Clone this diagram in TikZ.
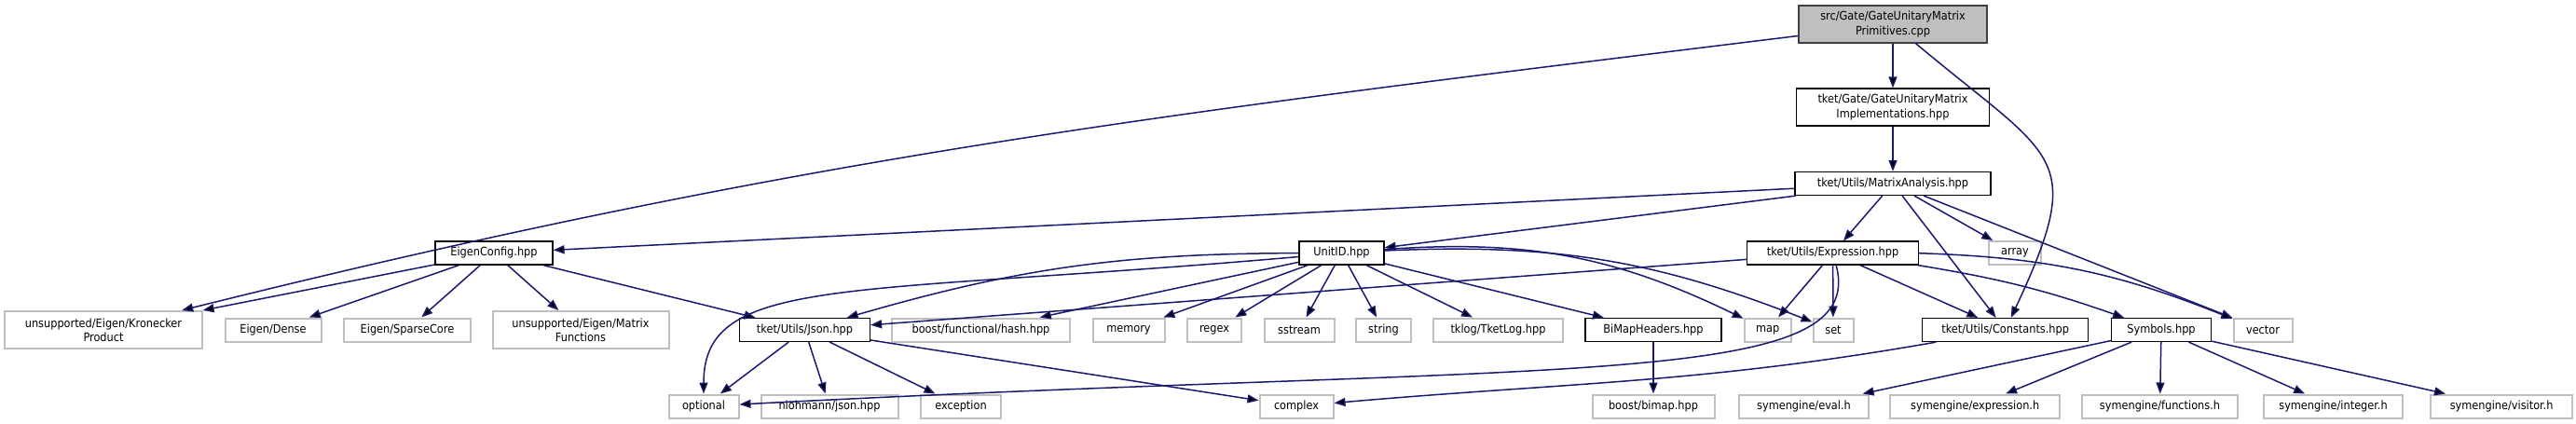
\documentclass[tikz,border=0pt]{standalone}
\usepackage{fontspec}
\setmainfont{DejaVu Sans Condensed}
\usepackage{xcolor}
\usepackage{tikz}
\usetikzlibrary{arrows.meta, positioning}

\definecolor{edgeblue}{HTML}{191970}
\definecolor{sysgray}{HTML}{BFBFBF}
\definecolor{rootline}{HTML}{404040}

\begin{document}
\begin{tikzpicture}[>={Triangle[length=6pt,width=4.5pt]}, node distance=41pt, on grid,
        file/.style={draw=black, line width=0.6pt, fill=white, inner sep=0pt, minimum height=12.5pt, align=center, font=\fontsize{6.3}{7.6}\selectfont},
        sys/.style={file, draw=sysgray, line width=1pt},
        tall/.style={minimum height=20pt},
        root/.style={file, tall, fill=sysgray, draw=rootline}]
        \useasboundingbox (0,0) rectangle (1382pt,-227.5pt);

        \node[root, minimum width=101pt] (prim) at (1015.5pt,-13pt) {src/Gate/GateUnitaryMatrix\\Primitives.cpp};
        \node[file, tall, minimum width=103.5pt] (impl) [below=44.5pt of prim] {tket/Gate/GateUnitaryMatrix\\Implementations.hpp};
        \node[file, minimum width=105pt] (matrix) [below=of impl] {tket/Utils/MatrixAnalysis.hpp};

        \node[file, minimum width=92pt] (expr) [below left=37.25pt and 32.2pt of matrix] {tket/Utils/Expression.hpp};
        \node[file, minimum width=45.5pt] (unitid) [left=263.55pt of expr] {UnitID.hpp};
        \node[file, minimum width=63pt] (eigen) [left=454.75pt of unitid] {EigenConfig.hpp};
        \node[sys, minimum width=28pt] (array) [right=97.7pt of expr] {array};

        % third row
        \node[sys, tall, minimum width=106pt] (kron) [below left=41.25pt and 209.5pt of eigen] {unsupported/Eigen/Kronecker\\Product};
        \node[sys, minimum width=51.5pt] (dense) [right=91pt of kron] {Eigen/Dense};
        \node[sys, minimum width=68pt] (sparse) [right=72pt of dense] {Eigen/SparseCore};
        \node[sys, tall, minimum width=94.5pt] (mfun) [right=93pt of sparse] {unsupported/Eigen/Matrix\\Functions};
        \node[file, minimum width=70pt] (json) [right=120.25pt of mfun] {tket/Utils/Json.hpp};
        \node[sys, minimum width=95.5pt] (hash) [right=94.5pt of json] {boost/functional/hash.hpp};
        \node[sys, minimum width=38.5pt] (memory) [right=79.25pt of hash] {memory};
        \node[sys, minimum width=29pt] (regex) [right=46pt of memory] {regex};
        \node[sys, minimum width=37.5pt] (sstream) [right=45.5pt of regex] {sstream};
        \node[sys, minimum width=29.5pt] (string) [right=45.25pt of sstream] {string};
        \node[sys, minimum width=69.5pt] (tketlog) [right=61.5pt of string] {tklog/TketLog.hpp};
        \node[file, minimum width=73pt] (bimaphdr) [right=83.25pt of tketlog] {BiMapHeaders.hpp};
        \node[sys, minimum width=25pt] (map) [right=61.3pt of bimaphdr] {map};
        \node[sys, minimum width=21.5pt] (set) [right=35.2pt of map] {set};
        \node[file, minimum width=89pt] (constants) [right=92.35pt of set] {tket/Utils/Constants.hpp};
        \node[file, minimum width=53.5pt] (symbols) [right=83.65pt of constants] {Symbols.hpp};
        \node[sys, minimum width=31.5pt] (vector) [right=54.5pt of symbols] {vector};

        % bottom row
        \node[sys, minimum width=37.5pt] (optional) [below left=41pt and 54.25pt of json] {optional};
        \node[sys, minimum width=73.5pt] (nlohmann) [right=67.5pt of optional] {nlohmann/json.hpp};
        \node[sys, minimum width=43pt] (exception) [right=70.5pt of nlohmann] {exception};
        \node[sys, minimum width=39.5pt] (complex) [right=180pt of exception] {complex};
        \node[sys, minimum width=65.5pt] (bimap) [below=of bimaphdr] {boost/bimap.hpp};
        \node[sys, minimum width=69.5pt] (eval) [right=80.75pt of bimap] {symengine/eval.h};
        \node[sys, minimum width=91pt] (exprh) [right=91.85pt of eval] {symengine/expression.h};
        \node[sys, minimum width=83.5pt] (funcs) [right=99.15pt of exprh] {symengine/functions.h};
        \node[sys, minimum width=74.5pt] (integer) [right=93pt of funcs] {symengine/integer.h};
        \node[sys, minimum width=76pt] (visitor) [right=90.3pt of integer] {symengine/visitor.h};

        \path[->, draw=edgeblue, line width=0.75pt]
        (prim) edge (impl)
               edge [out=187, in=14] (kron)
               edge [out=-40, in=65, looseness=1.6] (constants)
        (impl) edge (matrix)
        (matrix) edge (eigen) edge (unitid) edge (expr)
                 edge (constants) edge (array) edge (vector)
        (eigen) edge (kron) edge (dense) edge (sparse) edge (mfun) edge (json)
        (unitid) edge [out=185, in=90, out looseness=1.9, in looseness=0.5] (optional)
                 edge [bend right=8] (json)
                 edge (hash) edge (memory) edge (regex) edge (sstream)
                 edge (string) edge (tketlog) edge (bimaphdr)
                 edge [bend left=15] (map)
                 edge [bend left=12] (set)
        (expr) edge (json) edge (map) edge (set)
               edge [out=-75, in=3, out looseness=0.3, in looseness=1.9] (optional)
               edge (constants)
               edge [bend left=5] (symbols)
               edge [bend left=10] (vector)
        (json) edge (optional) edge (nlohmann) edge (exception) edge (complex)
        (bimaphdr) edge (bimap)
        (constants) edge [out=190, in=5] (complex)
        (symbols) edge (eval) edge (exprh) edge (funcs) edge (integer) edge (visitor);
\end{tikzpicture}
\end{document}
